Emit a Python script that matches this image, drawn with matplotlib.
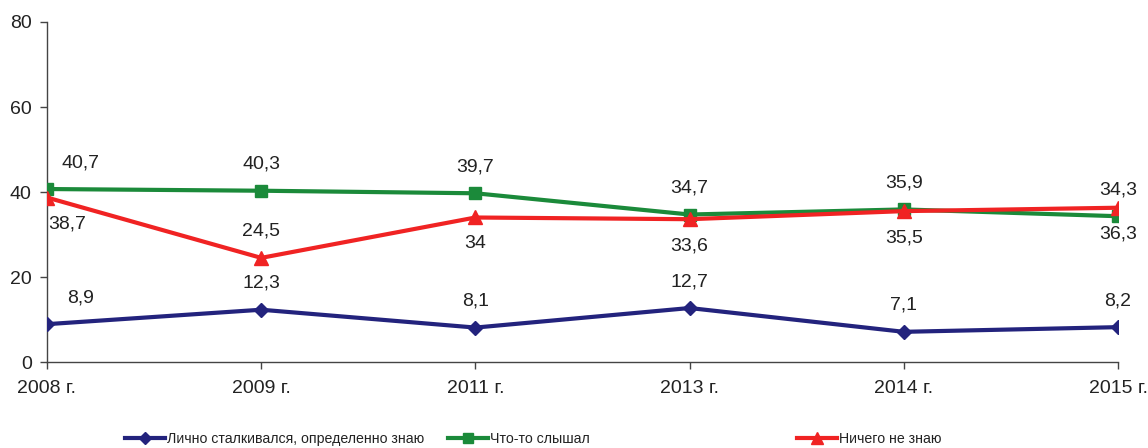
import matplotlib
matplotlib.use("Agg")
import matplotlib.pyplot as plt
from matplotlib.lines import Line2D

plt.rcParams['font.family'] = ['Liberation Sans', 'DejaVu Sans']

years = ["2008 г.", "2009 г.", "2011 г.", "2013 г.", "2014 г.", "2015 г."]
personal = [8.9, 12.3, 8.1, 12.7, 7.1, 8.2]
heard = [40.7, 40.3, 39.7, 34.7, 35.9, 34.3]
nothing = [38.7, 24.5, 34.0, 33.6, 35.5, 36.3]
names = ["Лично сталкивался, определенно знаю", "Что-то слышал", "Ничего не знаю"]

c_blue = "#23237d"
c_green = "#1b8a3a"
c_red = "#f02323"
txt = "#222222"
FS = 14

fig = plt.figure(figsize=(11.48, 4.48), dpi=100)
ax = fig.add_axes([47/1148, 1-362/448, (1118-47)/1148, 340/448])

x = list(range(len(years)))
ax.plot(x, personal, color=c_blue, lw=3, marker="D", ms=7, zorder=3)
ax.plot(x, heard, color=c_green, lw=3, marker="s", ms=8, zorder=3)
ax.plot(x, nothing, color=c_red, lw=3, marker="^", ms=10, zorder=4)

def fmt(v):
    s = ("%.1f" % v).replace(".", ",")
    if s.endswith(",0"):
        s = s[:-2]
    return s

def dx(i):
    return 24 if i == 0 else 0

for i, v in enumerate(personal):
    ax.annotate(fmt(v), (i, v), xytext=(dx(i), 19), textcoords="offset points",
                ha="center", va="center", fontsize=FS, color=txt)
for i, v in enumerate(heard):
    ax.annotate(fmt(v), (i, v), xytext=(dx(i), 19), textcoords="offset points",
                ha="center", va="center", fontsize=FS, color=txt)
red_pos = [-1, 1, -1, -1, -1, -1]
for i, v in enumerate(nothing):
    ax.annotate(fmt(v), (i, v), xytext=(dx(i) * 0.6, 19 * red_pos[i]), textcoords="offset points",
                ha="center", va="center", fontsize=FS, color=txt)

ax.set_xlim(0, len(years) - 1)
ax.set_ylim(0, 80)
ax.set_yticks([0, 20, 40, 60, 80])
ax.set_xticks(x)
ax.set_xticklabels(years)
ax.tick_params(axis="both", labelsize=FS, colors=txt, direction="out", length=5, width=1, color="#444444")
ax.tick_params(axis="x", pad=8)
ax.tick_params(axis="y", pad=6)
for s in ["top", "right"]:
    ax.spines[s].set_visible(False)
for s in ["left", "bottom"]:
    ax.spines[s].set_color("#444444")
    ax.spines[s].set_linewidth(1)

handles = [
    Line2D([], [], color=c_blue, lw=3, marker="D", ms=6),
    Line2D([], [], color=c_green, lw=3, marker="s", ms=7),
    Line2D([], [], color=c_red, lw=3, marker="^", ms=8),
]
starts = [125, 448, 797]
for h, n, x0 in zip(handles, names, starts):
    leg = fig.legend([h], [n], loc="center left", bbox_to_anchor=(x0 / 1148, 1 - 439 / 448),
                     frameon=False, handlelength=2.8, handletextpad=0.15, borderpad=0,
                     borderaxespad=0, prop={'size': 10.2})
    for t in leg.get_texts():
        t.set_color(txt)

fig.savefig("out.png", dpi=100)
